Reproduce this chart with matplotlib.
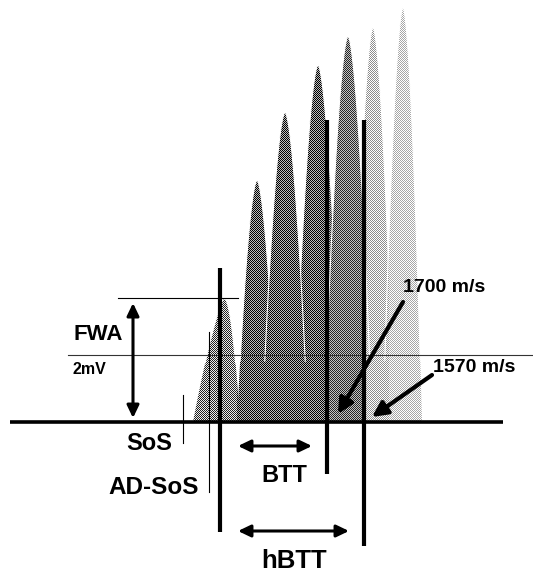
import numpy as np
import matplotlib.pyplot as plt
from matplotlib.colors import to_rgb
from matplotlib.patches import FancyArrowPatch, ArrowStyle, Polygon

plt.rcParams['font.family'] = ['Liberation Sans', 'DejaVu Sans']

# compound nerve response: peaks (time in sample units, amplitude in mV)
peak_time = [224, 257, 285, 318, 348, 373, 403]
peak_amp = [3.70, 7.22, 9.25, 10.66, 11.52, 11.79, 12.39]
peak_left = [31, 20, 23, 24, 24, 21, 20]
peak_right = [16, 20, 23, 24, 24, 21, 19]
shape_left = [1.3, 1.7, 1.7, 1.7, 1.7, 1.7, 1.7]
shape_right = [2.0, 1.7, 1.7, 1.7, 1.7, 1.7, 1.7]
peak_on_top = [True, False, True, False, True, False, True]
merge_mv = 1.76     # below this level the peaks fuse

# shading bands along the time axis (start, checker greys)
band_start = [0, 237, 327, 364, 389]
band_dark = ['#222222', '#000000', '#262626', '#8c8c8c', '#a6a6a6']
band_light = ['#eeeeee', '#bdbdbd', '#c4c4c4', '#ffffff', '#ffffff']

# markers on the time axis
sos_t = 183
ad_sos_t = 209
onset_t = 219.5
btt_t = 327
hbtt_t = 364
fwa_mv = 3.70
ref_mv = 2.0

W, H = 533, 573
BASE = 422      # pixel row of 0 mV
MV = 33.5       # pixels per mV


def row(mv):
    return BASE - mv * MV


fig = plt.figure(figsize=(W / 100, H / 100), dpi=100)
ax = fig.add_axes([0, 0, 1, 1])

# checker texture, colour set by band of each column
band_of_col = np.searchsorted(band_start, np.arange(W) + 0.5) - 1
dark = np.array([to_rgb(c) for c in band_dark])[band_of_col]
light = np.array([to_rgb(c) for c in band_light])[band_of_col]
ii, jj = np.indices((H, W))
chk = ((ii + jj) % 2 == 0)[..., None]
texture = np.where(chk, dark[None, :, :], light[None, :, :])

order = [k for k in range(7) if not peak_on_top[k]] + [k for k in range(7) if peak_on_top[k]]
for z, k in enumerate(order):
    d = np.concatenate([np.linspace(-peak_left[k], 0, 200), np.linspace(0, peak_right[k], 200)[1:]])
    w = np.where(d < 0, peak_left[k], peak_right[k])
    s = np.where(d < 0, shape_left[k], shape_right[k])
    f = peak_amp[k] * (1 - (np.abs(d) / w) ** s)
    x = peak_time[k] + d
    y = row(f)
    poly = Polygon(np.column_stack([x, y]), closed=True, fc='none', ec='none')
    ax.add_patch(poly)
    im = ax.imshow(texture, extent=(0, W, H, 0), interpolation='nearest',
                   aspect='auto', zorder=1 + z)
    im.set_clip_path(poly)
    m = f > merge_mv
    ax.plot(x[m], y[m], color='white', lw=0.8, zorder=1.5 + z)

ax.set_xlim(0, W)
ax.set_ylim(H, 0)
ax.axis('off')

# reference lines
ax.plot([10, 503], [BASE, BASE], color='k', lw=2.6, solid_capstyle='butt', zorder=20)
ax.plot([68, 533], [row(ref_mv), row(ref_mv)], color='#333333', lw=0.8, zorder=20)
ax.plot([118, 238], [row(fwa_mv), row(fwa_mv)], color='k', lw=0.8, zorder=20)

# markers
ax.plot([sos_t, sos_t], [395, 443], color='k', lw=0.8, zorder=20)
ax.plot([ad_sos_t, ad_sos_t], [332, 492], color='k', lw=0.8, zorder=20)
for xb, y0, y1 in [(onset_t, 268, 532), (btt_t, 120, 474), (hbtt_t, 120, 546)]:
    ax.plot([xb, xb], [y0, y1], color='k', lw=3, solid_capstyle='butt', zorder=20)

dbl = ArrowStyle('<|-|>', head_length=7.5, head_width=3.6)
one = ArrowStyle('-|>', head_length=9, head_width=4.5)


def arrow(p0, p1, style, lw):
    ax.add_patch(FancyArrowPatch(p0, p1, arrowstyle=style, mutation_scale=1,
                                 lw=lw, color='k', shrinkA=0, shrinkB=0, zorder=21))


arrow((133, row(fwa_mv) + 5), (133, BASE - 4), dbl, 2.2)
arrow((238, 446), (312, 446), dbl, 2.2)
arrow((238, 531), (349, 531), dbl, 2.2)
arrow((403, 302), (338, 414), one, 3)
arrow((432, 375), (372, 417), one, 3)

txt = dict(fontweight='bold', ha='center', va='center', color='k', zorder=22)
ax.text(98.5, 334, 'FWA', fontsize=16, **txt)
ax.text(89, 369, '2mV', fontsize=11.5, **txt)
ax.text(149.5, 444, 'SoS', fontsize=17, **txt)
ax.text(154, 487, 'AD-SoS', fontsize=17.5, **txt)
ax.text(284.5, 475.5, 'BTT', fontsize=17, **txt)
ax.text(294, 561, 'hBTT', fontsize=18.5, **txt)
ax.text(444.5, 288, '1700 m/s', fontsize=14, **txt)
ax.text(474, 367.5, '1570 m/s', fontsize=14, **txt)

fig.savefig('out.png', dpi=100)
